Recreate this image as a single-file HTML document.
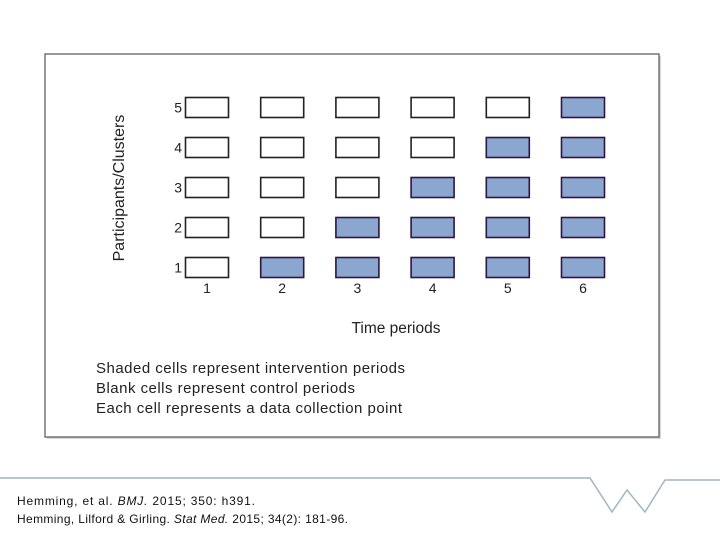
<!DOCTYPE html>
<html><head><meta charset="utf-8"><style>
body{margin:0;width:720px;height:540px;background:#fff;overflow:hidden;font-family:"Liberation Sans",sans-serif}
</style></head><body>
<svg width="720" height="540" xmlns="http://www.w3.org/2000/svg">
<rect x="47" y="56" width="614" height="383" fill="#d8d8d8"/>
<rect x="45" y="54" width="614" height="383" fill="#fff" stroke="#555" stroke-width="1.2"/>
<g id="cells"></g>
<text x="124" y="188" font-size="16" fill="#222" text-anchor="middle" transform="rotate(-90 124 188)">Participants/Clusters</text>
<text x="396" y="333" font-size="15.5" fill="#222" text-anchor="middle">Time periods</text>
<text x="96" y="373" font-size="15" fill="#222" textLength="309">Shaded cells represent intervention periods</text>
<text x="96" y="393" font-size="15" fill="#222" textLength="259">Blank cells represent control periods</text>
<text x="96" y="413" font-size="15" fill="#222" textLength="306">Each cell represents a data collection point</text>
<polyline points="0,478 590,478 612,512 627,490 645,512 665,480 720,480" fill="none" stroke="#9fb6c4" stroke-width="1.5"/>
<text x="17" y="505" font-size="12" fill="#111" textLength="238">Hemming, et al. <tspan font-style="italic">BMJ.</tspan> 2015; 350: h391.</text>
<text x="17" y="523" font-size="12" fill="#111" textLength="331">Hemming, Lilford &amp; Girling. <tspan font-style="italic">Stat Med.</tspan> 2015; 34(2): 181-96.</text>
</svg>
<script>
const periods=[1,2,3,4,5,6];
const clusters=[1,2,3,4,5];
const crossover=[2,3,4,5,6]; // first intervention period per cluster
const g=document.getElementById('cells');
const NS='http://www.w3.org/2000/svg';
const xS=p=>207+(p-1)*75.2;
const yS=c=>267.5-(c-1)*40;
const W=43,H=20;
clusters.forEach((c,ci)=>{
  periods.forEach(p=>{
    const r=document.createElementNS(NS,'rect');
    const on=p>=crossover[ci];
    r.setAttribute('x',xS(p)-W/2);r.setAttribute('y',yS(c)-H/2);
    r.setAttribute('width',W);r.setAttribute('height',H);
    r.setAttribute('fill',on?'#8ba6cf':'#fff');
    r.setAttribute('stroke',on?'#2a1840':'#222');
    r.setAttribute('stroke-width','1.6');
    
    
    g.appendChild(r);
  });
  const t=document.createElementNS(NS,'text');
  t.setAttribute('x',182);t.setAttribute('y',yS(c)+5);
  t.setAttribute('font-size','14');t.setAttribute('text-anchor','end');t.setAttribute('fill','#222');
  t.textContent=c;
  
  
  g.appendChild(t);
});
periods.forEach(p=>{
  const t=document.createElementNS(NS,'text');
  t.setAttribute('x',xS(p));t.setAttribute('y',293);
  t.setAttribute('font-size','14');t.setAttribute('text-anchor','middle');t.setAttribute('fill','#222');
  t.textContent=p;
  
  
  g.appendChild(t);
});
</script>
</body></html>
